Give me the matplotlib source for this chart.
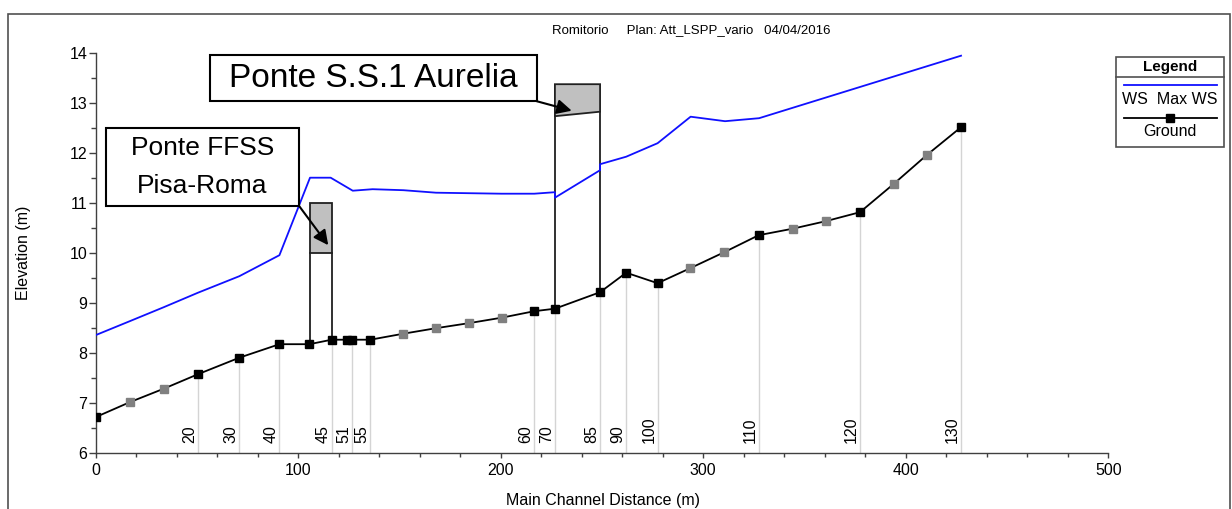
import matplotlib
matplotlib.use("Agg")
import matplotlib.pyplot as plt
from matplotlib.patches import Rectangle, Polygon
from matplotlib.lines import Line2D
from matplotlib.ticker import MultipleLocator

plt.rcParams['font.family'] = ['Liberation Sans', 'DejaVu Sans']

# ---------------- data ----------------
ground_dist = [0, 16.9, 33.7, 50.6, 71.0, 90.8, 105.6, 116.6, 124.0, 126.8, 135.7,
               152.0, 168.1, 184.2, 200.5, 216.6, 226.8, 249.1, 262.0, 277.5,
               293.6, 310.4, 327.4, 344.2, 360.5, 377.4, 394.2, 410.3, 427.3]
ground_elev = [6.71, 7.01, 7.28, 7.57, 7.90, 8.17, 8.17, 8.26, 8.26, 8.26, 8.26,
               8.38, 8.49, 8.59, 8.70, 8.83, 8.88, 9.21, 9.60, 9.39,
               9.69, 10.01, 10.35, 10.48, 10.63, 10.81, 11.38, 11.95, 12.51]
# True = surveyed cross section (black), False = interpolated (grey)
ground_surveyed = [True, False, False, True, True, True, True, True, True, True, True,
                   False, False, False, False, True, True, True, True, True,
                   False, False, True, False, False, True, False, False, True]

ws_dist = [0, 16.9, 33.7, 50.6, 71.0, 90.8, 105.9, 116.1, 127.0, 136.8, 152.0,
           168.1, 184.2, 200.5, 216.6, 226.8, 226.8, 249.1, 249.1, 262.0, 277.5,
           293.8, 310.8, 327.6, 427.3]
ws_elev = [8.35, 8.63, 8.91, 9.20, 9.53, 9.95, 11.50, 11.50, 11.24, 11.27, 11.25,
           11.20, 11.19, 11.18, 11.18, 11.21, 11.10, 11.65, 11.77, 11.92, 12.19,
           12.72, 12.63, 12.69, 13.94]

section_labels = ['20', '30', '40', '45', '51', '55', '60', '70', '85', '90',
                  '100', '110', '120', '130']
section_dist = [50.6, 71.0, 90.8, 116.6, 126.8, 135.7, 216.6, 226.8, 249.1, 262.0,
                277.5, 327.4, 377.4, 427.3]
section_elev = [7.57, 7.90, 8.17, 8.26, 8.26, 8.26, 8.83, 8.88, 9.21, 9.60,
                9.39, 10.35, 10.81, 12.51]

bridge_names = ['Ponte FFSS\nPisa-Roma', 'Ponte S.S.1 Aurelia']
bridge_x_up = [105.9, 226.8]
bridge_x_dn = [116.6, 249.1]
bridge_low_up = [10.0, 12.73]
bridge_low_dn = [10.0, 12.82]
bridge_high = [11.0, 13.37]
bridge_ground_up = [8.17, 8.88]
bridge_ground_dn = [8.26, 9.21]

title_parts = ['Romitorio', 'Plan: Att_LSPP_vario', '04/04/2016']

# ---------------- figure ----------------
W, H = 1232, 509
fig = plt.figure(figsize=(W / 100, H / 100), dpi=100)

def fx(px):
    return px / W

def fy(py):
    return 1 - py / H

fig.patches.append(Rectangle((fx(7.5), fy(560)), fx(1229.5) - fx(7.5), fy(13.5) - fy(560),
                             transform=fig.transFigure, fill=False,
                             edgecolor='#505050', lw=1.2))

ax = fig.add_axes([fx(95.5), fy(452.7), fx(1108.3) - fx(95.5), fy(52.7) - fy(452.7)])
ax.set_xlim(0, 500)
ax.set_ylim(6, 14)
for s in ('top', 'right'):
    ax.spines[s].set_visible(False)
for s in ('left', 'bottom'):
    ax.spines[s].set_color('#404040')
    ax.spines[s].set_linewidth(1.0)
ax.xaxis.set_major_locator(MultipleLocator(100))
ax.xaxis.set_minor_locator(MultipleLocator(20))
ax.yaxis.set_major_locator(MultipleLocator(1))
ax.yaxis.set_minor_locator(MultipleLocator(0.5))
ax.tick_params(axis='x', which='major', length=3.5, width=1, color='#404040',
               pad=4, labelsize=11.5)
ax.tick_params(axis='x', which='minor', length=3, width=1, color='#404040')
ax.tick_params(axis='y', which='major', length=5, width=1, color='#404040',
               pad=1, labelsize=11.5)
ax.tick_params(axis='y', which='minor', length=3.5, width=1, color='#404040')

for lab, d, e in zip(section_labels, section_dist, section_elev):
    ax.plot([d, d], [6, e], color='#d4d4d4', lw=1, zorder=1)
    ax.text(d - 0.6, 6.2, lab, rotation=90, ha='right', va='bottom', fontsize=11.5,
            zorder=2)

ax.plot(ws_dist, ws_elev, color='#1010ff', lw=1.3, zorder=4)

for i in range(len(bridge_names)):
    xu, xd = bridge_x_up[i], bridge_x_dn[i]
    deck = Polygon([(xu, bridge_low_up[i]), (xd, bridge_low_dn[i]),
                    (xd, bridge_high[i]), (xu, bridge_high[i])],
                   closed=True, facecolor='#c0c0c0', edgecolor='#202020', lw=1.3, zorder=3)
    ax.add_patch(deck)
    ax.plot([xu, xu], [bridge_ground_up[i], bridge_low_up[i]], color='#202020', lw=1.3, zorder=3)
    ax.plot([xd, xd], [bridge_ground_dn[i], bridge_low_dn[i]], color='#202020', lw=1.3, zorder=3)

ax.plot(ground_dist, ground_elev, color='black', lw=1.3, zorder=5)
for d, e, s in zip(ground_dist, ground_elev, ground_surveyed):
    ax.plot(d, e, marker='s', ms=5.2, color='black' if s else '#808080',
            mec='black' if s else '#808080', zorder=6)

boxes = [  # x0, x1, y0, y1
    (5.0, 100.6, 10.93, 12.49),
    (56.6, 217.8, 13.03, 13.95),
]
box_font = [19, 24]
arrow_tips = [(114.9, 10.15), (235.1, 12.84)]
for i, (x0, x1, y0, y1) in enumerate(boxes):
    ax.add_patch(Rectangle((x0, y0), x1 - x0, y1 - y0, facecolor='white',
                           edgecolor='black', lw=1.5, zorder=7))
    ax.text((x0 + x1) / 2, (y0 + y1) / 2, bridge_names[i], ha='center', va='center',
            fontsize=box_font[i], linespacing=1.75, zorder=8)
    ax.annotate('', xy=arrow_tips[i], xytext=(x1, y0),
                arrowprops=dict(arrowstyle='-|>', color='black', lw=1.5,
                                mutation_scale=22, shrinkA=0, shrinkB=0), zorder=8)

# title as one line (HEC-RAS style spacing)
fig.text(fx(691), fy(30), '     '.join(title_parts[:2]) + '   ' + title_parts[2],
         ha='center', va='center', fontsize=9.5)
fig.text(fx(602.5), fy(500), 'Main Channel Distance (m)', ha='center', va='center',
         fontsize=11.5)
fig.text(fx(24), fy(252.7), 'Elevation (m)', ha='center', va='center', rotation=90,
         fontsize=11.5)

lx0, lx1, ly0, ly1 = 1116, 1224, 57, 147
fig.patches.append(Rectangle((fx(lx0), fy(ly1)), fx(lx1) - fx(lx0), fy(ly0) - fy(ly1),
                             transform=fig.transFigure, facecolor='white',
                             edgecolor='#505050', lw=1.2))
fig.lines.append(Line2D([fx(lx0), fx(lx1)], [fy(77), fy(77)], transform=fig.transFigure,
                        color='#505050', lw=1.2))
fig.text(fx(1170), fy(67), 'Legend', ha='center', va='center', fontsize=11,
         fontweight='bold')
fig.lines.append(Line2D([fx(1124), fx(1217)], [fy(85), fy(85)], transform=fig.transFigure,
                        color='#1010ff', lw=1.3))
fig.text(fx(1170), fy(100), 'WS  Max WS', ha='center', va='center', fontsize=11.5)
fig.lines.append(Line2D([fx(1124), fx(1217)], [fy(117.7), fy(117.7)],
                        transform=fig.transFigure, color='black', lw=1.3))
fig.lines.append(Line2D([fx(1170)], [fy(117.7)], transform=fig.transFigure,
                        color='black', marker='s', ms=5.2))
fig.text(fx(1170), fy(132), 'Ground', ha='center', va='center', fontsize=11.5)

fig.savefig('out.png', dpi=100)
